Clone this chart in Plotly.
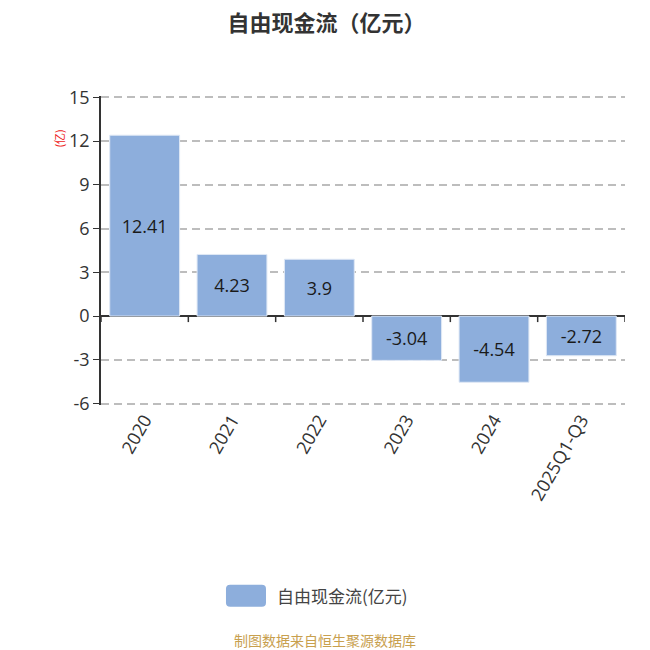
import plotly.graph_objects as go

# data
years = ["2020", "2021", "2022", "2023", "2024", "2025Q1-Q3"]
fcf = [12.41, 4.23, 3.9, -3.04, -4.54, -2.72]
y_ticks = [-6, -3, 0, 3, 6, 9, 12, 15]
series_name = "自由现金流(亿元)"

font_family = "Open Sans, Noto Sans CJK SC, sans-serif"
cjk_family = "Noto Sans CJK SC, sans-serif"
bar_color = "#8DAEDC"

fig = go.Figure()
fig.add_trace(go.Bar(
  x=years,
  y=fcf,
  name=series_name,
  showlegend=False,
  marker=dict(color=bar_color, line=dict(color="#dfe8f5", width=1)),
  width=0.8,
  text=[str(v) for v in fcf],
  textposition="inside",
  insidetextanchor="middle",
  textfont=dict(size=18, color="#1a1a1a", family=font_family),
  textangle=0,
))

# little ticks between categories on the zero line
for i in range(len(years) + 1):
  fig.add_shape(type="line", xref="x", yref="y",
                x0=i - 0.5, x1=i - 0.5, y0=0, y1=-6,
                ysizemode="pixel", yanchor=0,
                line=dict(color="#333333", width=1.5))

fig.update_layout(
  width=650, height=650,
  margin=dict(l=93, r=33, t=87.5, b=252.5),
  paper_bgcolor="white", plot_bgcolor="white",
  font=dict(family=font_family, color="#333333"),
  title=dict(text="<b>自由现金流（亿元）</b>", x=0.49, xanchor="center",
             y=0.977, yanchor="middle",
             font=dict(size=22, color="#333333", family=cjk_family)),
  bargap=0.2,
)

fig.update_xaxes(
  type="category", tickangle=-60, tickfont=dict(size=18, color="#333333"),
  showline=False, showgrid=False, ticks="", range=[-0.5, 5.5],
)
fig.update_yaxes(
  range=[-6.1, 15.1], tickvals=y_ticks, ticktext=[str(t) for t in y_ticks],
  tickfont=dict(size=18, color="#333333"),
  showline=True, linecolor="#333333", linewidth=1.5,
  ticks="outside", ticklen=6, tickcolor="#333333",
  showgrid=True, gridcolor="#bdbdbd", griddash="8px,5px", gridwidth=1.5,
  zeroline=True, zerolinecolor="#333333", zerolinewidth=1.5,
)

# legend: rounded swatch + label
x0, x1, y0, y1 = 0.2385, 0.3149, -0.653, -0.582
rx, ry = 0.008, 0.013
path = (f"M {x0+rx},{y0} L {x1-rx},{y0} Q {x1},{y0} {x1},{y0+ry} "
        f"L {x1},{y1-ry} Q {x1},{y1} {x1-rx},{y1} L {x0+rx},{y1} "
        f"Q {x0},{y1} {x0},{y1-ry} L {x0},{y0+ry} Q {x0},{y0} {x0+rx},{y0} Z")
fig.add_shape(type="path", xref="paper", yref="paper", path=path,
              fillcolor=bar_color, line=dict(width=0))
fig.add_annotation(text=series_name, xref="paper", yref="paper",
                   x=0.332, y=-0.618, xanchor="left", yanchor="middle", showarrow=False,
                   font=dict(size=17, color="#444444", family=cjk_family))

fig.add_annotation(text="(亿)", xref="paper", yref="paper", x=-0.101, y=0.898,
                   textangle=-90, showarrow=False,
                   font=dict(size=11, color="#ee2222", family=cjk_family))
fig.add_annotation(text="制图数据来自恒生聚源数据库", xref="paper", yref="paper",
                   x=0.4275, y=-0.76, xanchor="center", yanchor="middle", showarrow=False,
                   font=dict(size=14, color="#c8a04e", family=cjk_family))

fig.write_html("out.html")
